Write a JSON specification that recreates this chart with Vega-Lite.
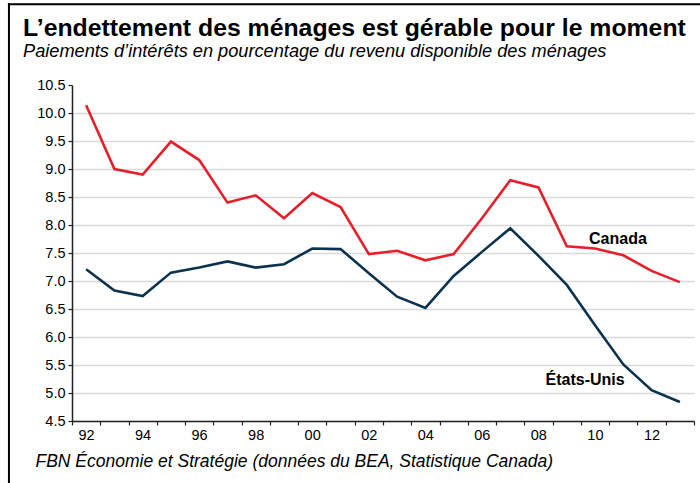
{
  "$schema": "https://vega.github.io/schema/vega-lite/v6.json",
  "width": 622,
  "height": 336,
  "autosize": {"type": "none"},
  "padding": {"left": 72, "top": 85, "right": 6, "bottom": 62},
  "background": "white",
  "title": {
    "text": "L’endettement des ménages est gérable pour le moment",
    "subtitle": "Paiements d’intérêts en pourcentage du revenu disponible des ménages",
    "anchor": "start",
    "frame": "group",
    "dx": -49,
    "offset": -57,
    "font": "Liberation Sans",
    "fontSize": 24.8,
    "fontWeight": "bold",
    "color": "#000000",
    "subtitleFont": "Liberation Sans",
    "subtitleFontSize": 18.2,
    "subtitleFontStyle": "italic",
    "subtitleColor": "#000000",
    "subtitlePadding": 2
  },
  "datasets": {
    "series": [
      {"year": 1992, "series": "Canada", "value": 10.14},
      {"year": 1993, "series": "Canada", "value": 9.0},
      {"year": 1994, "series": "Canada", "value": 8.9},
      {"year": 1995, "series": "Canada", "value": 9.49},
      {"year": 1996, "series": "Canada", "value": 9.16},
      {"year": 1997, "series": "Canada", "value": 8.4},
      {"year": 1998, "series": "Canada", "value": 8.53},
      {"year": 1999, "series": "Canada", "value": 8.12},
      {"year": 2000, "series": "Canada", "value": 8.57},
      {"year": 2001, "series": "Canada", "value": 8.32},
      {"year": 2002, "series": "Canada", "value": 7.48},
      {"year": 2003, "series": "Canada", "value": 7.54},
      {"year": 2004, "series": "Canada", "value": 7.37},
      {"year": 2005, "series": "Canada", "value": 7.48},
      {"year": 2006, "series": "Canada", "value": 8.12},
      {"year": 2007, "series": "Canada", "value": 8.8},
      {"year": 2008, "series": "Canada", "value": 8.67},
      {"year": 2009, "series": "Canada", "value": 7.62},
      {"year": 2010, "series": "Canada", "value": 7.58},
      {"year": 2011, "series": "Canada", "value": 7.46},
      {"year": 2012, "series": "Canada", "value": 7.18},
      {"year": 2013, "series": "Canada", "value": 6.98},
      {"year": 1992, "series": "États-Unis", "value": 7.21},
      {"year": 1993, "series": "États-Unis", "value": 6.83},
      {"year": 1994, "series": "États-Unis", "value": 6.73},
      {"year": 1995, "series": "États-Unis", "value": 7.15},
      {"year": 1996, "series": "États-Unis", "value": 7.24},
      {"year": 1997, "series": "États-Unis", "value": 7.35},
      {"year": 1998, "series": "États-Unis", "value": 7.24},
      {"year": 1999, "series": "États-Unis", "value": 7.3},
      {"year": 2000, "series": "États-Unis", "value": 7.58},
      {"year": 2001, "series": "États-Unis", "value": 7.57},
      {"year": 2002, "series": "États-Unis", "value": 7.14},
      {"year": 2003, "series": "États-Unis", "value": 6.72},
      {"year": 2004, "series": "États-Unis", "value": 6.52},
      {"year": 2005, "series": "États-Unis", "value": 7.09},
      {"year": 2006, "series": "États-Unis", "value": 7.52},
      {"year": 2007, "series": "États-Unis", "value": 7.94},
      {"year": 2008, "series": "États-Unis", "value": 7.45},
      {"year": 2009, "series": "États-Unis", "value": 6.93},
      {"year": 2010, "series": "États-Unis", "value": 6.21},
      {"year": 2011, "series": "États-Unis", "value": 5.51},
      {"year": 2012, "series": "États-Unis", "value": 5.05},
      {"year": 2013, "series": "États-Unis", "value": 4.84}
    ],
    "one": [{}]
  },
  "resolve": {"axis": {"x": "independent", "y": "independent"}},
  "layer": [
    {
      "data": {"name": "series"},
      "mark": {"type": "line", "strokeWidth": 2.6, "strokeJoin": "miter", "clip": false},
      "encoding": {
        "x": {
          "field": "year",
          "type": "quantitative",
          "scale": {"domain": [1991.5, 2013.5], "nice": false, "zero": false},
          "axis": {
            "values": [1991.5, 1992.5, 1993.5, 1994.5, 1995.5, 1996.5, 1997.5, 1998.5, 1999.5, 2000.5, 2001.5, 2002.5, 2003.5, 2004.5, 2005.5, 2006.5, 2007.5, 2008.5, 2009.5, 2010.5, 2011.5, 2012.5, 2013.5],
            "labelExpr": "datum.value < 2013 && (datum.value + 0.5) % 2 == 0 ? substring(toString(datum.value + 0.5), 2) : ''",
            "labelOverlap": false,
            "labelFontSize": 14.5,
            "title": "FBN Économie et Stratégie (données du BEA, Statistique Canada)"
          }
        },
        "y": {
          "field": "value",
          "type": "quantitative",
          "scale": {"domain": [4.5, 10.5], "nice": false, "zero": false},
          "axis": {
            "values": [4.5, 5.0, 5.5, 6.0, 6.5, 7.0, 7.5, 8.0, 8.5, 9.0, 9.5, 10.0, 10.5],
            "format": ".1f",
            "labelOverlap": false,
            "labelFontSize": 14.5,
            "title": null
          }
        },
        "color": {
          "field": "series",
          "type": "nominal",
          "scale": {"domain": ["Canada", "États-Unis"], "range": ["#e5202a", "#0c334d"]},
          "legend": null
        }
      }
    },
    {
      "data": {"name": "one"},
      "mark": {"type": "rule", "color": "#000000", "strokeWidth": 2, "strokeCap": "square"},
      "encoding": {
        "x": {"datum": 1989.27, "type": "quantitative", "axis": null},
        "y": {"datum": 3.0, "type": "quantitative", "axis": null},
        "y2": {"datum": 11.94}
      }
    },
    {
      "data": {"name": "one"},
      "mark": {"type": "rule", "color": "#000000", "strokeWidth": 2, "strokeCap": "square"},
      "encoding": {
        "x": {"datum": 1989.27, "type": "quantitative", "axis": null},
        "x2": {"datum": 2016.0},
        "y": {"datum": 11.94, "type": "quantitative", "axis": null}
      }
    },
    {
      "data": {"name": "one"},
      "mark": {"type": "text", "font": "Liberation Sans", "fontSize": 16, "fontWeight": "bold", "color": "#000000", "align": "center", "baseline": "middle"},
      "encoding": {
        "x": {"datum": 2010.81, "type": "quantitative", "axis": null},
        "y": {"datum": 7.75, "type": "quantitative", "axis": null},
        "text": {"value": "Canada"}
      }
    },
    {
      "data": {"name": "one"},
      "mark": {"type": "text", "font": "Liberation Sans", "fontSize": 16, "fontWeight": "bold", "color": "#000000", "align": "center", "baseline": "middle"},
      "encoding": {
        "x": {"datum": 2009.65, "type": "quantitative", "axis": null},
        "y": {"datum": 5.23, "type": "quantitative", "axis": null},
        "text": {"value": "États-Unis"}
      }
    }
  ],
  "config": {
    "view": {"stroke": null},
    "font": "Liberation Sans",
    "axis": {
      "labelFont": "Liberation Sans",
      "labelFontSize": 14.5,
      "labelColor": "#000000",
      "labelPadding": 3,
      "labelOverlap": false,
      "labelBound": false,
      "labelFlush": false,
      "tickSize": 4,
      "tickColor": "#222222",
      "tickWidth": 1.2,
      "domainColor": "#222222",
      "domainWidth": 1.5
    },
    "axisX": {
      "labelOffset": 14,
      "grid": false,
      "titleAnchor": "start",
      "titleAlign": "left",
      "titleBaseline": "alphabetic",
      "titleX": -37,
      "titleY": 45,
      "titleFont": "Liberation Sans",
      "titleFontSize": 17.5,
      "titleFontStyle": "italic",
      "titleFontWeight": "normal",
      "titleColor": "#000000",
      "titlePadding": 0
    },
    "axisY": {
      "grid": true,
      "gridColor": "#d9d9d9",
      "gridWidth": 1.5,
      "gridOpacity": {"condition": {"test": "datum.value >= 10.5", "value": 0}, "value": 1}
    }
  }
}
